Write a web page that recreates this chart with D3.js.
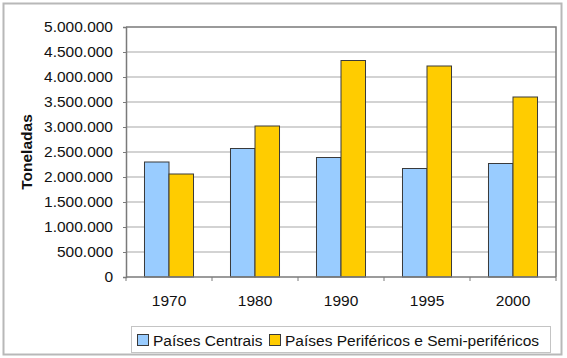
<!DOCTYPE html>
<html>
<head>
<meta charset="utf-8">
<script src="https://cdn.jsdelivr.net/npm/d3@7"></script>
<style>
  html, body { margin: 0; padding: 0; background: #fff; }
  svg { display: block; font-family: "Liberation Sans", Arial, sans-serif; }
</style>
</head>
<body>
<svg id="chart" width="567" height="358"></svg>
<script>
const categories = ["1970", "1980", "1990", "1995", "2000"];
const seriesNames = ["Países Centrais", "Países Periféricos e Semi-periféricos"];
const centrais = [2300000, 2570000, 2390000, 2170000, 2270000];
const perifericos = [2060000, 3020000, 4330000, 4220000, 3600000];
const yTicks = [0, 500000, 1000000, 1500000, 2000000, 2500000, 3000000, 3500000, 4000000, 4500000, 5000000];
const colors = ["#99ccff", "#ffcc00"];

const svg = d3.select("#chart");
const m = { left: 126, right: 556, top: 27, bottom: 277 };
const FS = 15.5;

// outer frame
svg.append("rect").attr("x", 3.5).attr("y", 3.5).attr("width", 558).attr("height", 351)
  .attr("fill", "#fff").attr("stroke", "#b8b8b8").attr("stroke-width", 2);

const x = d3.scaleBand().domain(categories).range([m.left, m.right]).padding(0);
const y = d3.scaleLinear().domain([0, 5000000]).range([m.bottom, m.top]);
const fmt = d3.formatLocale({ decimal: ",", thousands: ".", grouping: [3], currency: ["", ""] }).format(",");

// gridlines
svg.append("g").selectAll("line").data(yTicks.filter(d => d > 0 && d < 5000000)).join("line")
  .attr("x1", m.left).attr("x2", m.right)
  .attr("y1", d => y(d)).attr("y2", d => y(d))
  .attr("stroke", "#c4c4c4").attr("stroke-width", 1.5);

// plot border top/right
svg.append("path")
  .attr("d", `M${m.left},${y(5000000)}H${m.right}V${m.bottom}`)
  .attr("fill", "none").attr("stroke", "#7a7a7a").attr("stroke-width", 1.5);

// bars
const groupW = x.step() * 0.57;
const barW = groupW / 2;
const data = categories.map((c, i) => ({ c, vals: [centrais[i], perifericos[i]] }));
const g = svg.append("g");
data.forEach(d => {
  const x0 = x(d.c) + (x.bandwidth() - groupW) / 2;
  d.vals.forEach((v, j) => {
    g.append("rect")
      .attr("x", x0 + j * barW).attr("y", y(v))
      .attr("width", barW).attr("height", y(0) - y(v))
      .attr("fill", colors[j]).attr("stroke", "#3a3a3a").attr("stroke-width", 1);
  });
});

// y axis
const ya = svg.append("g").attr("transform", `translate(${m.left},0)`)
  .call(d3.axisLeft(y).tickValues(yTicks).tickFormat(fmt).tickSize(3).tickPadding(10));
ya.select(".domain").attr("stroke", "#7a7a7a").attr("stroke-width", 1.5);
ya.selectAll(".tick line").attr("stroke", "#7a7a7a");
ya.selectAll("text").attr("font-size", FS).attr("fill", "#111").attr("font-family", "Liberation Sans, Arial, sans-serif");

// x axis
const xa = svg.append("g").attr("transform", `translate(0,${m.bottom})`)
  .call(d3.axisBottom(x).tickSize(0).tickPadding(18));
xa.select(".domain").remove();
xa.selectAll("text").attr("font-size", FS).attr("fill", "#111").attr("font-family", "Liberation Sans, Arial, sans-serif");
svg.append("line").attr("x1", m.left).attr("x2", m.right).attr("y1", m.bottom).attr("y2", m.bottom)
  .attr("stroke", "#7a7a7a").attr("stroke-width", 1.5);
const bounds = categories.map(c => x(c)).concat([x(categories[categories.length - 1]) + x.step()]);
svg.append("g").selectAll("line").data(bounds).join("line")
  .attr("x1", d => d).attr("x2", d => d).attr("y1", m.bottom).attr("y2", m.bottom + 4)
  .attr("stroke", "#7a7a7a");

// axis title
svg.append("text")
  .attr("transform", `translate(31.5,${(m.top + m.bottom) / 2}) rotate(-90)`)
  .attr("text-anchor", "middle").attr("font-size", 15.5).attr("font-weight", "bold").attr("fill", "#111")
  .text("Toneladas");

// legend
const lg = svg.append("g");
lg.append("rect").attr("x", 131.5).attr("y", 326.5).attr("width", 419).attr("height", 26)
  .attr("fill", "#fff").attr("stroke", "#c4c4c4").attr("stroke-width", 1);
const items = [{ name: seriesNames[0], x: 137 }, { name: seriesNames[1], x: 269 }];
items.forEach((it, j) => {
  lg.append("rect").attr("x", it.x + 0.5).attr("y", 334.5).attr("width", 11).attr("height", 11)
    .attr("fill", colors[j]).attr("stroke", "#3a3a3a");
  lg.append("text").attr("x", it.x + 16).attr("y", 345.5)
    .attr("font-size", FS).attr("fill", "#111").text(it.name);
});
</script>
</body>
</html>
